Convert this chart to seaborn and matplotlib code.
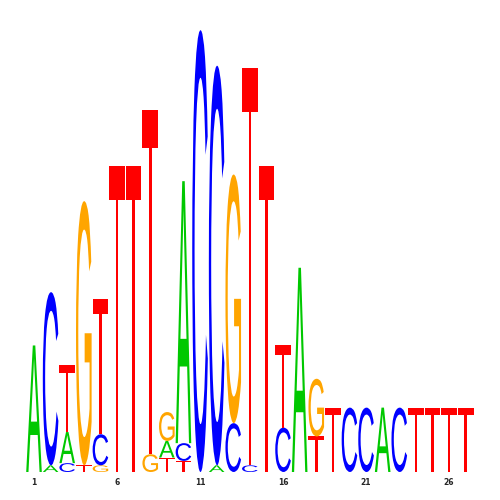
import matplotlib
matplotlib.use('Agg')
import matplotlib.pyplot as plt
import numpy as np
import pandas as pd
import seaborn as sns
from matplotlib.textpath import TextPath
from matplotlib.patches import PathPatch
from matplotlib.font_manager import FontProperties
from matplotlib import transforms

# information content (bits) per base at each of the 27 positions
positions = list(range(1, 28))
a_bits = [0.57, 0.03, 0.14, 0, 0, 0, 0, 0, 0.075, 1.18, 0, 0.03, 0, 0,
          0, 0, 0.92, 0, 0, 0, 0, 0.29, 0, 0, 0, 0, 0]
c_bits = [0, 0.78, 0.04, 0, 0.14, 0, 0, 0, 0, 0.08, 1.99, 1.80, 0.22, 0.03,
          0, 0.20, 0, 0, 0, 0.29, 0.29, 0, 0.29, 0, 0, 0, 0]
g_bits = [0, 0, 0, 1.19, 0.03, 0, 0, 0.08, 0.13, 0, 0, 0, 1.12, 0,
          0, 0, 0, 0.26, 0, 0, 0, 0, 0, 0, 0, 0, 0]
t_bits = [0, 0, 0.30, 0.03, 0.61, 1.38, 1.38, 1.55, 0.065, 0.05, 0, 0, 0, 1.79,
          1.38, 0.37, 0, 0.16, 0.29, 0, 0, 0, 0, 0.29, 0.29, 0.29, 0.29]
tick_positions = [1, 6, 11, 16, 21, 26]

colors = {'A': '#00C800', 'C': '#0000FF', 'G': '#FFA500', 'T': '#FF0000'}

df = pd.DataFrame({'A': a_bits, 'C': c_bits, 'G': g_bits, 'T': t_bits},
                  index=positions)

sns.set_style('white')
font = FontProperties(family='Liberation Sans', weight='normal')


def draw_letter(ax, letter, x, y, w, h):
    tp = TextPath((0, 0), letter, size=1, prop=font)
    bb = tp.get_extents()
    t = (transforms.Affine2D()
         .translate(-bb.x0, -bb.y0)
         .scale(w / bb.width, h / bb.height)
         .translate(x - w / 2, y))
    ax.add_patch(PathPatch(t.transform_path(tp), facecolor=colors[letter],
                           edgecolor='none'))


fig = plt.figure(figsize=(5, 5), dpi=100)
ax = fig.add_axes([0.0514, 0.056, 0.8966, 0.926])

for pos, row in df.iterrows():
    y = 0.0
    for letter, h in sorted(row.items(), key=lambda kv: kv[1]):
        if h <= 0:
            continue
        draw_letter(ax, letter, pos, y, 0.94, h)
        y += h

ax.set_xlim(0.5, 27.5)
ax.set_ylim(0, 0.926 * 500 / 222)
ax.set_xticks(tick_positions)
ax.set_xticklabels([str(p) for p in tick_positions], fontsize=5.5,
                   fontweight='bold')
ax.tick_params(axis='x', length=0, pad=4)
ax.set_yticks([])
sns.despine(ax=ax, left=True, bottom=True)

fig.savefig('out.png', dpi=100)
